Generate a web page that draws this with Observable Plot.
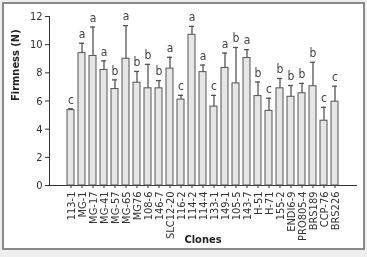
<!DOCTYPE html>
<html>
<head>
<meta charset="utf-8">
<script src="https://cdn.jsdelivr.net/npm/d3@7"></script>
<script src="https://cdn.jsdelivr.net/npm/@observablehq/plot@0.6"></script>
<style>
  html, body { margin: 0; padding: 0; background: #efefef; width: 367px; height: 257px; overflow: hidden; }
  #frame { position: absolute; left: 2px; top: 2px; width: 359px; height: 244px; border: 2px solid #8a8a8a; background: #fff; }
  #chart { position: absolute; left: 0; top: 0; will-change: transform; }
  #chart svg { background: transparent !important; }
</style>
</head>
<body>
<div id="frame"></div>
<div id="chart"></div>
<script>
const clones = ["113-1","MG-1","MG-17","MG-41","MG-57","MG-65","MG76","108-6","146-7","SLC12-20","116-2","114-2","114-4","133-1","149-1","105-5","143-7","H-51","H-71","155-2","ENDI6-9","PRO805-4","BRS189","CCP-76","BRS226"];
const means  = [5.35, 9.4, 9.2, 8.2, 6.85, 9.0, 7.3, 6.9, 6.9, 8.3, 6.1, 10.7, 8.05, 5.6, 8.35, 7.25, 9.05, 6.35, 5.3, 6.9, 6.3, 6.55, 7.05, 4.6, 5.95];
const errors = [0.1, 0.7, 2.05, 0.65, 0.65, 2.35, 0.8, 1.7, 0.55, 0.8, 0.3, 0.6, 0.5, 0.8, 1.05, 2.55, 0.6, 1.0, 0.9, 0.7, 0.8, 0.7, 1.7, 0.95, 1.1];
const letters = ["c","a","a","a","b","a","b","b","b","a","c","a","a","c","a","b","a","b","c","b","b","b","b","c","c"];
const yTicks = [0, 2, 4, 6, 8, 10, 12];

const data = clones.map((c, i) => ({clone: c, mean: means[i], err: errors[i], top: means[i] + errors[i], letter: letters[i]}));

const font = "'Liberation Sans Narrow', 'Arial Narrow', 'DejaVu Sans Condensed', sans-serif";

const chart = Plot.plot({
  width: 367,
  height: 257,
  marginLeft: 49,
  marginRight: 11,
  marginTop: 16,
  marginBottom: 72,
  style: {fontFamily: font, fontSize: "11px", color: "#333", background: "transparent"},
  x: {domain: clones, paddingInner: 0.32, paddingOuter: 0.5, tickRotate: -90, tickSize: 3, tickPadding: 3, label: null, line: true},
  y: {domain: [0, 12], ticks: yTicks, tickSize: 4, tickPadding: 3, label: null, line: true},
  marks: [
    Plot.barY(data, {x: "clone", y: "mean", fill: "#e6e6e6", stroke: "#555", strokeWidth: 1}),
    Plot.ruleX(data, {x: "clone", y1: "mean", y2: "top", stroke: "#555", strokeWidth: 1.3}),
    Plot.tickY(data, {x: "clone", y: "top", stroke: "#555", strokeWidth: 1.3, insetLeft: 1, insetRight: 1}),
    Plot.text(data, {x: "clone", y: "top", text: "letter", dy: -9, fill: "#444", fontSize: 12}),
    Plot.text(["Firmness (N)"], {frameAnchor: "left", rotate: -90, dx: -34, fontWeight: "bold", fill: "#222", fontSize: 11}),
    Plot.text(["Clones"], {frameAnchor: "bottom", dy: 57, fontWeight: "bold", fill: "#222", fontSize: 11})
  ]
});
document.getElementById("chart").appendChild(chart);
</script>
</body>
</html>
